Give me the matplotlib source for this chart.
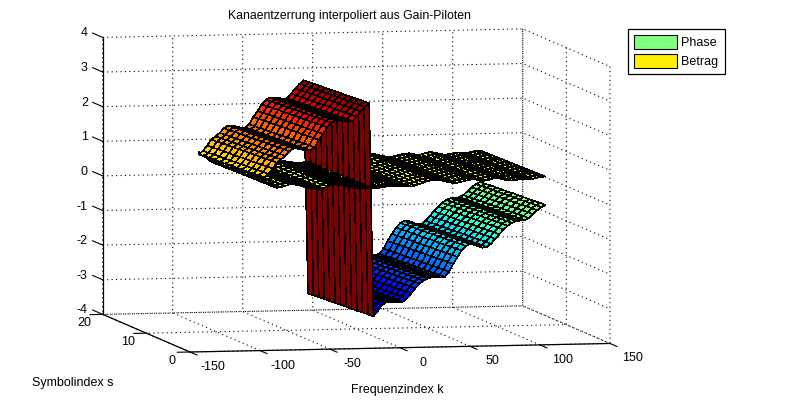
import numpy as np
import matplotlib
matplotlib.use('Agg')
import matplotlib.pyplot as plt
from matplotlib.patches import Patch
from mpl_toolkits.mplot3d import proj3d
from mpl_toolkits.mplot3d.art3d import Poly3DCollection

plt.rcParams['font.family'] = ['Liberation Sans', 'DejaVu Sans']

# values
k_idx = [-97, -94, -91, -88, -85, -82, -79, -76, -73, -70, -67, -64, -61, -58, -55, -52, -49, -46, -43, -40,
         -37, -34, -31, -28, -25, -22, -19, -16, -13, -10, -7, -4, -1, 2, 5, 8, 11, 14, 17, 20, 23, 26, 29,
         32, 35, 38, 41, 44, 47, 50, 53, 56, 59, 62, 65, 68, 71, 74, 77, 80, 83, 86, 89, 92, 95, 98, 101, 104]
s_idx = [0, 1.25, 2.5, 3.75, 5, 6.25, 7.5, 8.75, 10, 11.25, 12.5, 13.75, 15]
phase = [1.00, 1.10, 1.25, 1.42, 1.51, 1.61, 1.74, 1.82, 1.81, 1.78, 1.75, 1.75, 1.84, 2.05, 2.22, 2.41, 2.54,
         2.60, 2.60, 2.58, 2.56, 2.57, 2.70, 2.85, 2.98, 3.08, -3.08, -2.93, -2.76, -2.69, -2.69, -2.69, -2.69,
         -2.67, -2.58, -2.44, -2.29, -2.16, -2.07, -2.01, -1.99, -1.99, -2.00, -1.98, -1.83, -1.61, -1.41, -1.23,
         -1.10, -1.04, -1.05, -1.12, -1.16, -1.14, -1.05, -0.91, -0.78, -0.65, -0.54, -0.46, -0.41, -0.40, -0.39,
         -0.33, -0.22, -0.11, -0.02, 0.04]
betrag = [0.98, 0.90, 0.78, 0.69, 0.71, 0.74, 0.78, 0.78, 0.76, 0.72, 0.68, 0.65, 0.64, 0.64, 0.65, 0.70, 0.74,
          0.75, 0.74, 0.71, 0.68, 0.65, 0.63, 0.62, 0.62, 0.62, 0.63, 0.63, 0.64, 0.66, 0.67, 0.68, 0.67, 0.66,
          0.65, 0.65, 0.68, 0.72, 0.76, 0.80, 0.83, 0.83, 0.81, 0.78, 0.75, 0.73, 0.73, 0.76, 0.79, 0.81, 0.82,
          0.80, 0.77, 0.78, 0.82, 0.84, 0.83, 0.80, 0.77, 0.76, 0.78, 0.80, 0.81, 0.80, 0.80, 0.83, 0.85, 0.86]
s_drift_phase = [0, -0.01, -0.02, -0.04, -0.05, -0.06, -0.07, -0.09, -0.10, -0.11, -0.12, -0.14, -0.15]
s_drift_betrag = [0, -0.01, -0.01, -0.02, -0.02, -0.03, -0.03, -0.04, -0.04, -0.05, -0.05, -0.06, -0.06]

x_ticks = [-150, -100, -50, 0, 50, 100, 150]
y_ticks = [0, 10, 20]
z_ticks = [-4, -3, -2, -1, 0, 1, 2, 3, 4]
legend_labels = ['Phase', 'Betrag']
legend_colors = ['#80ff80', '#ffee00']


def make_quads(profile, drift):
    # one flat coloured quad per mesh cell, colour from the first corner like matlab
    zz = np.add.outer(np.array(drift), np.array(profile))
    quads = []
    values = []
    for j in range(len(s_idx) - 1):
        for i in range(len(k_idx) - 1):
            quads.append([(k_idx[i], s_idx[j], zz[j, i]), (k_idx[i + 1], s_idx[j], zz[j, i + 1]),
                          (k_idx[i + 1], s_idx[j + 1], zz[j + 1, i + 1]), (k_idx[i], s_idx[j + 1], zz[j + 1, i])])
            values.append(zz[j, i])
    return quads, values


fig = plt.figure(figsize=(8.01, 4), dpi=100)
ax = fig.add_axes([0, 0, 1, 1], projection='3d', proj_type='ortho')
ax.patch.set_visible(False)
ax.view_init(elev=5.37, azim=-102.25)
ax.set_box_aspect((428.3, 410, 277.2))

q1, v1 = make_quads(phase, s_drift_phase)
q2, v2 = make_quads(betrag, s_drift_betrag)
cols = plt.cm.jet(plt.Normalize(-3.4, 3.0)(np.array(v1 + v2)))
surf = Poly3DCollection(q1 + q2, facecolors=cols, edgecolors='k', linewidths=0.4, antialiaseds=False)
ax.add_collection3d(surf, autolim=False)

ax.set_xlim(-150, 150, view_margin=0)
ax.set_ylim(0, 20, view_margin=0)
ax.set_zlim(-4, 4, view_margin=0)
ax.set_xticks(x_ticks)
ax.set_yticks(y_ticks)
ax.set_zticks(z_ticks)
ax.set_xticklabels([])
ax.set_yticklabels([])
ax.set_zticklabels([])
for a in (ax.xaxis, ax.yaxis, ax.zaxis):
    a.set_pane_color((1, 1, 1, 0))
    a.pane.set_edgecolor((1, 1, 1, 0))
    a.line.set_color('k')
    a.line.set_linewidth(0.9)
    a._axinfo['grid'].update(color='k', linestyle=(0, (1, 3)), linewidth=0.8)
    a._axinfo['tick'].update(color=(1, 1, 1, 0), inward_factor=0, outward_factor=0)

# matlab style ticks and tick labels at data positions
for v in x_ticks:
    ax.plot([v, v], [0, -1.6], [-4, -4], color='k', lw=0.8)
    ax.text(v, -5.2, -4.15, str(v), fontsize=9, ha='center', va='center')
for v in y_ticks:
    ax.plot([-150, -159], [v, v], [-4, -4], color='k', lw=0.8)
    ax.text(-163, v, -4.25, str(v), fontsize=9, ha='center', va='center')
for v in z_ticks:
    ax.plot([-150, -150], [20, 22.3], [v, v], color='k', lw=0.8)
    ax.text(-150, 23.4, v - 0.07, str(v), fontsize=9, ha='right', va='center')


# fit the axes box so the floor edge sits where it does in the picture
def corner(x, y, z):
    fig.canvas.draw()
    px, py, _ = proj3d.proj_transform(x, y, z, ax.get_proj())
    return ax.transData.transform((px, py))


size = 400.0
left, bottom = 200.0, 0.0
ax.set_position([left / 801, bottom / 400, size / 801, size / 400])
span = corner(150, 0, -4)[0] - corner(-150, 0, -4)[0]
size = size * 420 / span
ax.set_position([left / 801, bottom / 400, size / 801, size / 400])
p = corner(-150, 0, -4)
left += 190 - p[0]
bottom += (400 - 352) - p[1]
ax.set_position([left / 801, bottom / 400, size / 801, size / 400])

fig.text(349.5 / 801, 1 - 16 / 400, 'Kanaentzerrung interpoliert aus Gain-Piloten', fontsize=8.8, ha='center', va='center')
fig.text(397 / 801, 1 - 390 / 400, 'Frequenzindex k', fontsize=9, ha='center', va='center')
fig.text(32 / 801, 1 - 383 / 400, 'Symbolindex s', fontsize=9, ha='left', va='center')

handles = [Patch(facecolor=c, edgecolor='k', linewidth=0.8) for c in legend_colors]
leg = fig.legend(handles, legend_labels, loc='upper left', bbox_to_anchor=(628 / 801, 1 - 29 / 400), fontsize=9,
                 fancybox=False, framealpha=1, edgecolor='k', borderaxespad=0, handlelength=3.4, handleheight=1.35,
                 labelspacing=0.35, handletextpad=0.35, borderpad=0.5)
leg.get_frame().set_linewidth(0.9)

fig.savefig('out.png', dpi=100)
